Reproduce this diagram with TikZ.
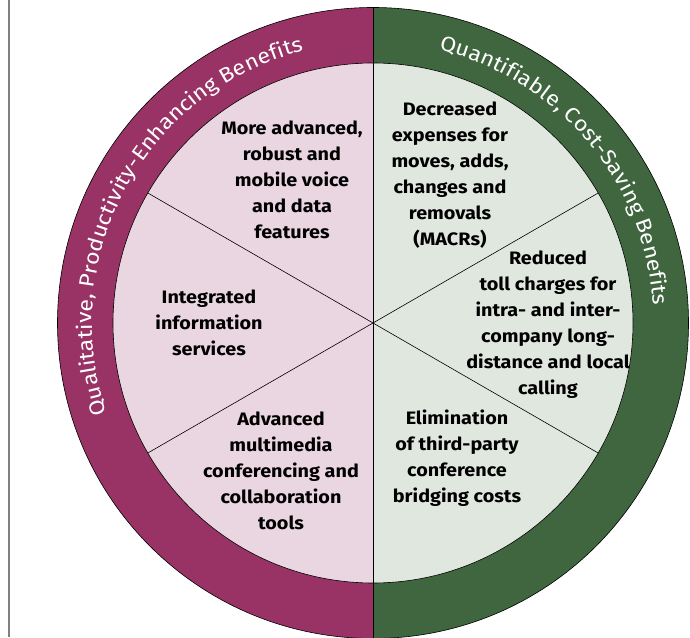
\documentclass[tikz,border=0pt]{standalone}
\usepackage{fontspec}
\setmainfont{Fira Sans}[FakeStretch=1.1]
\usetikzlibrary{decorations.text}

\definecolor{qualring}{RGB}{153,51,102}
\definecolor{quantring}{RGB}{64,102,64}
\definecolor{qualfill}{RGB}{234,214,224}
\definecolor{quantfill}{RGB}{224,231,223}
\definecolor{frameline}{RGB}{128,128,128}

\newcommand{\ringfont}{\fontsize{21}{21}\selectfont}

\tikzset{
  benefit/.style={align=center, inner sep=0pt, text=black,
    font=\fontsize{18}{26}\selectfont\bfseries},
  outline/.style={draw=black, line width=0.6pt},
  ringlabel/.style={decorate, decoration={text along path, text align=center,
    text color=white, text={|\ringfont|#1}}}
}

\begin{document}
\begin{tikzpicture}[x=1pt,y=1pt]
\useasboundingbox (0,0) rectangle (690,637);
\clip (0,0) rectangle (690,637);

% page rule on the left
\coordinate (ruletop) at (9,637);
\coordinate (rulebot) at (9,0);
\draw[frameline, line width=2pt] (ruletop) -- (rulebot);

% wheel centre and radii: outer 315.5, inner 260
\coordinate (c) at (373,314);
\coordinate (top) at ([shift={(90:315.5)}]c);
\coordinate (bot) at ([shift={(-90:315.5)}]c);

% outer ring halves
\fill[qualring] (c) -- (top) arc[start angle=90, end angle=270, radius=315.5] -- cycle;
\fill[quantring] (c) -- (top) arc[start angle=90, end angle=-90, radius=315.5] -- cycle;

% inner disc halves
\fill[qualfill] (c) -- ([shift={(90:260)}]c) arc[start angle=90, end angle=270, radius=260] -- cycle;
\fill[quantfill] (c) -- ([shift={(90:260)}]c) arc[start angle=90, end angle=-90, radius=260] -- cycle;

% outlines
\draw[outline] (c) circle[radius=315.5];
\draw[outline] (c) circle[radius=260];
\draw[outline] (top) -- (bot);

% spokes between the six benefits
\foreach \a in {30,150,210,330}{
  \coordinate (s\a) at ([shift={(\a:260)}]c);
  \draw[outline] (c) -- (s\a);
}

% ring headings
\path[ringlabel={Qualitative, Productivity-Enhancing Benefits}]
  ([shift={(240:281)}]c) arc[start angle=240, end angle=63, radius=281];
\path[ringlabel={Quantifiable, Cost-Saving Benefits}]
  ([shift={(110:281)}]c) arc[start angle=110, end angle=-30, radius=281];

% benefits
\node[benefit] (mobile) at (292,457) {More advanced,\\robust and\\mobile voice\\and data\\features};
\node[benefit] (macr) at (450,462) {Decreased\\expenses for\\moves, adds,\\changes and\\removals\\(MACRs)};
\node[benefit] (toll) at (548,312) {Reduced\\toll charges for\\intra- and inter-\\company long-\\distance and local\\calling};
\node[benefit] (info) at (209,314) {Integrated\\information\\services};
\node[benefit] (conf) at (281,166) {Advanced\\multimedia\\conferencing and\\collaboration\\tools};
\node[benefit] (bridge) at (457,179) {Elimination\\of third-party\\conference\\bridging costs};
\end{tikzpicture}
\end{document}
